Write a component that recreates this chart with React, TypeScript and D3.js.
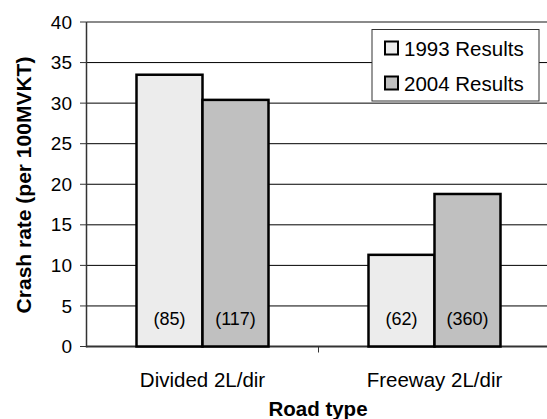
import React from "react";
import * as d3 from "d3";

const categories = ["Divided 2L/dir", "Freeway 2L/dir"];
const seriesNames = ["1993 Results", "2004 Results"];
const values1993 = [33.5, 11.3];
const values2004 = [30.4, 18.8];
const counts1993 = ["(85)", "(62)"];
const counts2004 = ["(117)", "(360)"];
const yTicks = [0, 5, 10, 15, 20, 25, 30, 35, 40];
const fills = ["#ececec", "#c0c0c0"];

export default function App() {
  const W = 547, H = 419;
  const left = 86.5, right = 550.5, top = 22, bottom = 346.5;
  const x = d3.scaleBand<string>().domain(categories).range([left, right]);
  const y = d3.scaleLinear().domain([0, 40]).range([bottom, top]);
  const barW = 66;
  const series = [values1993, values2004];
  const counts = [counts1993, counts2004];
  const font = "Arial, 'Liberation Sans', sans-serif";
  return (
    <svg width={W} height={H} style={{ position: "absolute", left: 0, top: 0 }} fontFamily={font}>
      <rect x={0} y={0} width={W} height={H} fill="#fff" />
      {yTicks.map((t) => (
        <g key={t}>
          <line x1={left} x2={W} y1={y(t)} y2={y(t)} stroke={t === 40 ? "#8a8a8a" : t === 0 ? "#333" : "#000"} strokeWidth={t === 40 || t === 0 ? 2 : 1} />
          <line x1={80} x2={left} y1={y(t)} y2={y(t)} stroke="#333" strokeWidth={1} />
          <text x={72} y={y(t)} dy="0.35em" textAnchor="end" fontSize={19}>{t}</text>
        </g>
      ))}
      <line x1={left} x2={left} y1={top} y2={bottom + 1} stroke="#333" strokeWidth={1.5} />
      {categories.map((c) => (
        <line key={c} x1={x(c)! + x.bandwidth()} x2={x(c)! + x.bandwidth()} y1={bottom} y2={bottom + 6} stroke="#333" />
      ))}
      {categories.map((c, i) => {
        const cx = x(c)! + x.bandwidth() / 2;
        return (
          <g key={c}>
            {series.map((vals, s) => {
              const bx = cx - barW + s * barW;
              return (
                <g key={s}>
                  <rect x={bx} y={y(vals[i])} width={barW} height={bottom - y(vals[i])} fill={fills[s]} stroke="#000" strokeWidth={2.5} />
                  <text x={bx + barW / 2} y={319} dy="0.35em" textAnchor="middle" fontSize={18}>{counts[s][i]}</text>
                </g>
              );
            })}
            <text x={cx} y={379.5} dy="0.35em" textAnchor="middle" fontSize={20.5}>{c}</text>
          </g>
        );
      })}
      <text x={318} y={409} dy="0.35em" textAnchor="middle" fontSize={20.5} fontWeight="bold">Road type</text>
      <text transform={`translate(24, 185) rotate(-90)`} textAnchor="middle" dy="0.35em" fontSize={21} fontWeight="bold">Crash rate (per 100MVKT)</text>
      <rect x={372} y={29.5} width={167} height={71.5} fill="#fff" stroke="#333" strokeWidth={1} />
      {seriesNames.map((n, s) => (
        <g key={n}>
          <rect x={385} y={41.5 + s * 35} width={13} height={13} fill={fills[s]} stroke="#000" strokeWidth={2} />
          <text x={404} y={48.5 + s * 35} dy="0.35em" fontSize={20.5}>{n}</text>
        </g>
      ))}
    </svg>
  );
}
